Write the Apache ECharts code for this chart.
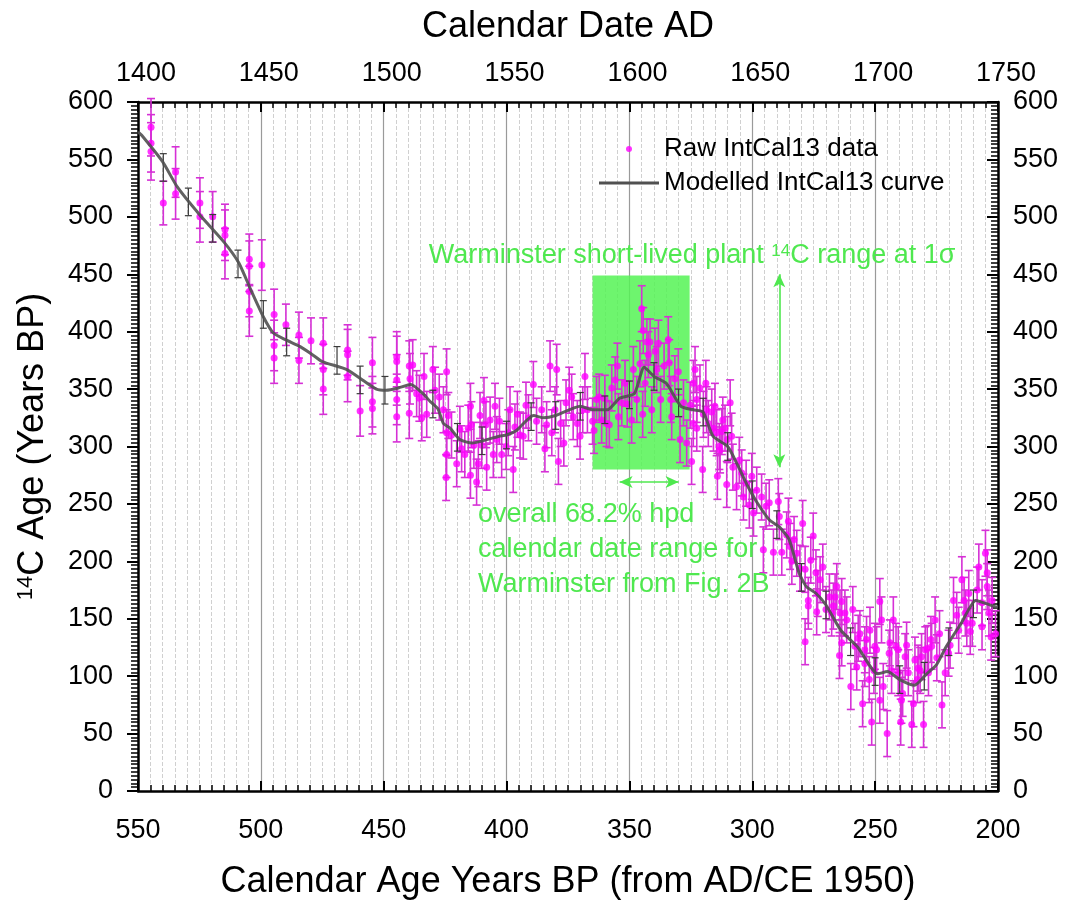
<!DOCTYPE html>
<html><head><meta charset="utf-8">
<script src="https://cdn.jsdelivr.net/npm/echarts@6/dist/echarts.min.js"></script>
<style>html,body{margin:0;padding:0;background:#fff}#c{width:1068px;height:901px}</style>
</head><body><div id="c"></div><script>
const FONT = "'Liberation Sans', Arial, sans-serif";
// axis ranges
const bpRange = [200, 550];
const adRange = [1400, 1750];
const c14Range = [0, 600];
const legendNames = ['Raw IntCal13 data', 'Modelled IntCal13 curve'];
const xTitle = 'Calendar Age Years BP (from AD/CE 1950)';
const xTopTitle = 'Calendar Date AD';
const yTitle = '{sup|14}C Age (Years BP)';
// raw IntCal13 measurements: [cal BP, 14C age, 1 sigma]
const rawData = [
[544.7,578,25],[544.7,564,25],[544.7,557,25],[539.7,512,19],[534.7,539,22],[534.7,520,22],
[524.8,512,22],[524.8,500,22],[519.6,500,22],[514.6,489,22],[514.6,484,22],[514.6,468,22],
[504.7,463,22],[504.7,457,22],[504.7,435,22],[504.7,418,22],[499.6,458,22],
[494.6,415,22],[494.6,388,22],[494.6,377,22],[489.8,406,18],[484.5,397,20],[484.5,375,20],
[479.6,392,20],[474.6,390,22],[474.6,367,22],[474.6,350,22],[464.7,384,22],[464.7,380,22],[464.7,361,22],
[459.6,331,22],[454.6,373,22],[454.6,339,22],[454.6,333,22],
[444.7,378,22],[444.7,374,22],[444.7,358,22],[444.7,341,22],[444.7,326,22],
[439.6,370,22],[439.6,329,22],[439.3,359,22],
[438.2,371,22],[436.6,346,20],[435.5,342,20],[434.5,325,20],[433.6,361,20],[432.5,328,20],[430,367,20],
[429.1,349,20],[427.4,343,20],[425.7,332,20],[424.4,365,20],[424.4,312,20],[424.4,293,20],[424.6,273,20],
[423.7,327,20],[422.4,310,20],[420.3,285,20],[419,315,20],[418.3,298,20],[417,293,20],[415.6,316,20],
[414.7,335,20],[414.3,319,20],[414.7,275,20],[413.3,301,20],[412.2,269,20],[411.5,285,20],[410.8,327,20],
[410.1,301,20],[409.2,340,20],[408.4,319,20],[408.1,282,20],[406.7,323,20],[405.4,293,20],[404.7,335,20],
[404,306,20],[402.9,322,20],[402,293,20],[400.2,300,20],[399.3,312,20],[398.6,332,20],[397.3,280,20],
[396.6,317,20],[395.6,328,20],[394.5,310,20],[393.2,309,20],[392.1,336,20],[391.1,325,20],[389.1,354,20],
[387.8,322,20],[385.7,332,20],[384.4,298,20],[383.7,319,20],
[382.3,370,22],[381.6,312,20],[380.3,332,20],[379.6,367,22],[378.9,287,20],[378,320,20],[376.7,303,20],
[375.8,338,20],[374.5,349,20],[373.5,343,20],[372.9,326,20],[371.2,320,20],[370.1,309,20],[369,332,20],
[368.1,361,20],[367.1,332,20],[365,322,20],[364.4,314,20],[363.4,341,20],[362.3,343,20],[361.3,323,20],
[360,342,20],[359.3,320,20],[358.2,319,20],[357.2,351,20],[355.8,358,20],[354.9,370,20],[354.5,326,20],
[353.1,338,20],[351.8,355,20],[350.9,337,20],[349.1,323,20],[348.4,367,20],[347,341,20],[345.7,372,20],
[345,420,20],[344.4,401,20],[344.6,328,20],[343.6,355,20],[342.9,391,20],[342.3,380,20],[341.6,391,20],
[340.9,332,20],[339.6,383,20],[338.9,367,20],[338.2,390,20],[337.3,341,20],[335.9,370,20],[334.2,393,20],
[333.8,373,20],[333.2,341,20],[332.8,326,20],[331.5,359,20],[330.1,365,20],[329.4,306,20],[328,338,20],
[326.7,303,20],[325.3,336,20],[324.7,287,20],[324,355,20],[323.3,367,20],[321.3,351,20],[320.2,280,20],
[318.6,332,20],[322.6,341,20],[319.9,328,20],[318.9,355,20],[317.9,320,20],[316.5,330,20],[315.8,316,20],
[314.5,312,20],[313.4,300,20],[312,323,20],[311.1,316,20],[310.1,306,20],[309,338,20],[308.4,309,20],
[324,320,20],[322.6,316,20],[315.2,335,20],[314.2,274,20],[313.1,297,20],[312.4,313,20],[310.4,267,20],
[307.9,282,20],[306.4,265,20],[305.3,288,20],[304.3,277,20],[303.6,256,20],[302.5,268,20],[301.2,249,20],
[300.2,274,20],[299.5,242,20],[298.2,262,20],[296.2,256,20],[295.5,210,20],[294.4,248,20],[293.1,251,20],
[291.4,208,20],[289.4,252,20],[289,239,20],[288,208,20],[286,223,20],[285.3,235,20],[284.6,213,20],
[283.9,200,20],[283,219,20],[281.9,207,20],[280.6,194,20],[279.5,233,20],[278.5,193,20],[277.2,166,20],
[276.2,201,20],[275.2,222,20],[274.1,190,20],[273.4,172,20],[272.4,184,20],[271.3,195,20],[270,158,20],
[268.6,169,20],[267,161,20],[265.6,178,20],[263.6,165,20],[262.3,155,20],
[278.5,130,20],[277.2,161,20],[273.8,156,20],[267.7,155,20],[266.3,169,20],[264.5,118,20],[263.6,129,20],
[261.6,149,20],[259.9,91,20],[259.1,158,20],[258.2,126,20],[257.5,108,20],[256.2,137,20],[255.1,76,20],
[254.2,111,20],[253.5,132,20],[252.4,97,20],[251.4,60,20],[250.5,105,20],[249.4,123,20],[248.1,165,20],
[248.1,79,20],[246.7,91,20],[245.1,50,20],[244.3,120,20],[243.3,105,20],[242.6,149,20],[241.5,126,20],
[240.6,103,20],[239.6,60,20],[238.8,85,20],[237.8,117,20],[236.5,103,20],[235.1,58,20],[234.4,76,20],
[233.8,114,20],[232.8,97,20],[231.7,105,20],[230.3,58,20],[229.6,123,20],[228.3,103,20],[227.3,132,20],
[225.6,149,20],[224.9,116,20],[223.8,137,20],[222.8,75,20],[221.5,103,20],[220.1,120,20],[218.1,166,20],
[216,140,20],[214.7,184,20],[213.3,155,20],[211.9,172,20],[210.5,146,20],[208.5,175,20],[207.8,195,20],
[206.5,143,20],[205.1,207,20],[204.4,190,20],[203.7,155,20],[202.4,166,20],[201,137,20],
[264.3,155,20],[256.9,133,20],[254.2,123,20],[252.1,140,20],[250.1,126,20],[247.4,149,20],[244,129,20],
[240.6,123,20],[239.3,79,20],[237.2,127,20],[232.5,107,20],[231.1,117,20],[228.8,124,20],[227,126,20],
[219.5,127,20],[216.8,153,20],[213.8,166,20],[212.7,146,20],[211.3,139,20],[206.5,164,20],[204.4,178,20],
[202.8,134,20]
];
// modelled IntCal13 curve: [cal BP, 14C age]
const curveData = [
[550,574],[548.5,571],[540,548],[534,526],[525,502],[515,478],[509,460],[504,436],[499,413],[495,399],
[490,393],[484,387],[479,380],[475,374],[465,367],[458,357],[453,350],[449,349],[444,351],[439,354],
[434,346],[431,339],[428,333],[425.7,320],[423,316],[419,306],[414,303],[408,306],[403,309],[400,310],
[396,314],[389,327],[385,325],[380,327],[370,335],[365,332],[359,332],[354,342],[348,346],[344,369],
[340,361],[335,355],[329,335],[324,332],[320,330],[316,309],[310,300],[306,284],[302,266],[298,251],
[293,236],[289,230],[285,219],[281,190],[278,178],[274,172],[270,162],[264,140],[257,125],[249,102],
[245,104],[240,97],[234,92],[229,102],[225,110],[221,126],[215,146],[209,166],[202,161],[200,160]
];
// modelled curve 1 sigma bars: [cal BP, 14C age, sigma]
const curveSigma = [
[539.7,543,12],[529.5,513,12],[519.6,490,12],[509.3,459,12],[499,415,12],[489.5,391,12],[469,375,12],
[459.6,358,12],[449.5,349,12],[430,337,12],[420,308,12],[410,305,12],[400,310,12],[390,326,12],
[380,327,12],[370,335,12],[360,332,12],[350,345,12],[340,361,12],[330,338,12],[320,330,12],[310,300,12],
[300,258,12],[290,232,12],[280,186,12],[270,162,12],[260,130,12],[250,104,12],[240,97,12],[230,100,12],
[220,130,12],[210,163,12]
];
// Warminster annotation
const plantBox = {bp: [365, 325.5], c14: [280, 449]};
const hpdArrow = {bp: [354, 330], c14: 269};
const sigmaArrow = {bp: 289, c14: [450, 282]};
const GREEN = '#4fe84f';

function errBar(color, lw, cap) {
  return function (params, api) {
    const x = api.value(0), y = api.value(1), e = api.value(2);
    const t = api.coord([x, y + e]), b = api.coord([x, y - e]);
    const st = {stroke: color, lineWidth: lw};
    return {type: 'group', children: [
      {type: 'line', shape: {x1: t[0], y1: t[1], x2: b[0], y2: b[1]}, style: st},
      {type: 'line', shape: {x1: t[0] - cap, y1: t[1], x2: t[0] + cap, y2: t[1]}, style: st},
      {type: 'line', shape: {x1: b[0] - cap, y1: b[1], x2: b[0] + cap, y2: b[1]}, style: st}
    ]};
  };
}

const chart = echarts.init(document.getElementById('c'), null, {renderer: 'canvas'});
const tickLabel = {fontSize: 27, color: '#000', fontFamily: FONT};
const axLine = {show: true, onZero: false, lineStyle: {color: '#000', width: 2.5}};
const plainNum = v => String(v);
const lineIcon = 'path://M0,0 L0.01,0 L0.01,0.01 Z M0,1.6 L60,1.6 L60,4.4 L0,4.4 Z M0,6 L0.01,6 L0.01,5.99 Z';
chart.setOption({
  animation: false,
  backgroundColor: '#fff',
  grid: {left: 138, right: 70, top: 102, bottom: 110, containLabel: false, outerBoundsMode: 'none'},
  legend: {
    left: 594, top: 131, orient: 'vertical', itemWidth: 60, itemHeight: 6, itemGap: 8,
    textStyle: {fontSize: 26, color: '#000', fontFamily: FONT},
    data: [{name: legendNames[0], icon: 'circle'},
           {name: legendNames[1], icon: lineIcon, itemStyle: {color: '#505050'}}]
  },
  xAxis: [
    {type: 'value', min: bpRange[0], max: bpRange[1], interval: 50, inverse: true, position: 'bottom',
     name: xTitle, nameLocation: 'middle', nameGap: 73,
     nameTextStyle: {fontSize: 36, color: '#000', fontFamily: FONT},
     axisLine: axLine,
     axisTick: {show: true, inside: true, length: 10, lineStyle: {color: '#000', width: 2}},
     minorTick: {show: true, splitNumber: 10, length: 6, lineStyle: {color: '#000', width: 1.5}},
     axisLabel: Object.assign({margin: 26, formatter: plainNum, showMinLabel: true, showMaxLabel: true}, tickLabel),
     splitLine: {show: true, lineStyle: {color: '#9a9a9a', width: 1.2}},
     minorSplitLine: {show: true, lineStyle: {color: '#d0d0d0', type: 'dashed', width: 1}}},
    {type: 'value', min: adRange[0], max: adRange[1], interval: 50, position: 'top',
     name: xTopTitle, nameLocation: 'middle', nameGap: 57,
     nameTextStyle: {fontSize: 36, color: '#000', fontFamily: FONT},
     axisLine: axLine,
     axisTick: {show: true, inside: true, length: 10, lineStyle: {color: '#000', width: 2}},
     minorTick: {show: true, splitNumber: 10, length: 6, lineStyle: {color: '#000', width: 1.5}},
     axisLabel: Object.assign({margin: 15, formatter: plainNum, padding: [0, 0, 0, 16], showMinLabel: true, showMaxLabel: true}, tickLabel),
     splitLine: {show: false}}
  ],
  yAxis: [
    {type: 'value', min: c14Range[0], max: c14Range[1], interval: 50, position: 'left',
     name: yTitle, nameLocation: 'middle', nameGap: 87, nameRotate: 90,
     nameTextStyle: {fontSize: 36, color: '#000', fontFamily: FONT,
       rich: {sup: {fontSize: 22, verticalAlign: 'top', fontFamily: FONT, color: '#000'}}},
     axisLine: axLine,
     axisTick: {show: true, inside: false, length: 11, lineStyle: {color: '#000', width: 2}},
     minorTick: {show: true, splitNumber: 15, length: 7, lineStyle: {color: '#000', width: 1.5}},
     axisLabel: Object.assign({margin: 25, showMinLabel: true, showMaxLabel: true}, tickLabel),
     splitLine: {show: false}},
    {type: 'value', min: c14Range[0], max: c14Range[1], interval: 50, position: 'right',
     axisLine: axLine,
     axisTick: {show: true, inside: true, length: 11, lineStyle: {color: '#000', width: 2}},
     minorTick: {show: true, splitNumber: 15, length: 7, lineStyle: {color: '#000', width: 1.5}},
     axisLabel: Object.assign({margin: 15, showMinLabel: true, showMaxLabel: true}, tickLabel),
     splitLine: {show: false}}
  ],
  series: [
    {type: 'line', name: 'annot', data: [], z: 1, silent: true, xAxisIndex: 0, yAxisIndex: 0,
     markArea: {silent: true, itemStyle: {color: 'rgba(85,243,85,0.85)'},
       data: [[{xAxis: plantBox.bp[0], yAxis: plantBox.c14[1]}, {xAxis: plantBox.bp[1], yAxis: plantBox.c14[0]}]]}},
    {type: 'custom', name: 'rawErr', data: rawData, z: 2, silent: true, encode: {x: 0, y: 1},
     renderItem: errBar('#d630d6', 1.6, 4)},
    {type: 'scatter', name: legendNames[0], data: rawData.map(d => [d[0], d[1]]), z: 3,
     symbol: 'circle', symbolSize: 7, itemStyle: {color: '#ff00ff'}},
    {type: 'custom', name: 'curveErr', data: curveSigma, z: 4, silent: true, encode: {x: 0, y: 1},
     renderItem: errBar('#3a3a3a', 1.2, 3.5)},
    {type: 'line', name: legendNames[1], data: curveData, z: 5, symbol: 'none', smooth: 0.2,
     lineStyle: {color: '#505050', width: 3, opacity: 0.9}, itemStyle: {color: '#505050'}},
    {type: 'line', name: 'arrows', data: [], z: 6, silent: true,
     markLine: {silent: true, symbol: ['arrow', 'arrow'], symbolSize: [9, 13],
       lineStyle: {color: GREEN, width: 1.6, type: 'solid'}, label: {show: false},
       data: [
         [{coord: [hpdArrow.bp[0], hpdArrow.c14]}, {coord: [hpdArrow.bp[1], hpdArrow.c14]}],
         [{coord: [sigmaArrow.bp, sigmaArrow.c14[0]]}, {coord: [sigmaArrow.bp, sigmaArrow.c14[1]]}]
       ]}}
  ]
});

// green annotation texts anchored in data coordinates
const toPx = p => chart.convertToPixel({xAxisIndex: 0, yAxisIndex: 0}, p);
const tMain = toPx([324.5, 466]);
const tHpd = [toPx([411.6, 241]), toPx([411.6, 210.6]), toPx([411.6, 180])];
const hpdLines = ['overall 68.2% hpd', 'calendar date range for', 'Warminster from Fig. 2B'];
const gfont = '27px ' + FONT;
chart.setOption({
  graphic: [
    {type: 'text', x: tMain[0], y: tMain[1], z: 100,
     style: {text: 'Warminster short-lived plant {sup|14}C range at 1σ', font: gfont, fill: GREEN,
       align: 'center', verticalAlign: 'middle',
       rich: {sup: {fontSize: 17, verticalAlign: 'top', fill: GREEN, fontFamily: FONT}}}}
  ].concat(hpdLines.map((t, i) => ({type: 'text', x: tHpd[i][0], y: tHpd[i][1], z: 100,
     style: {text: t, font: gfont, fill: GREEN, align: 'left', verticalAlign: 'middle'}})))
});
</script></body></html>
